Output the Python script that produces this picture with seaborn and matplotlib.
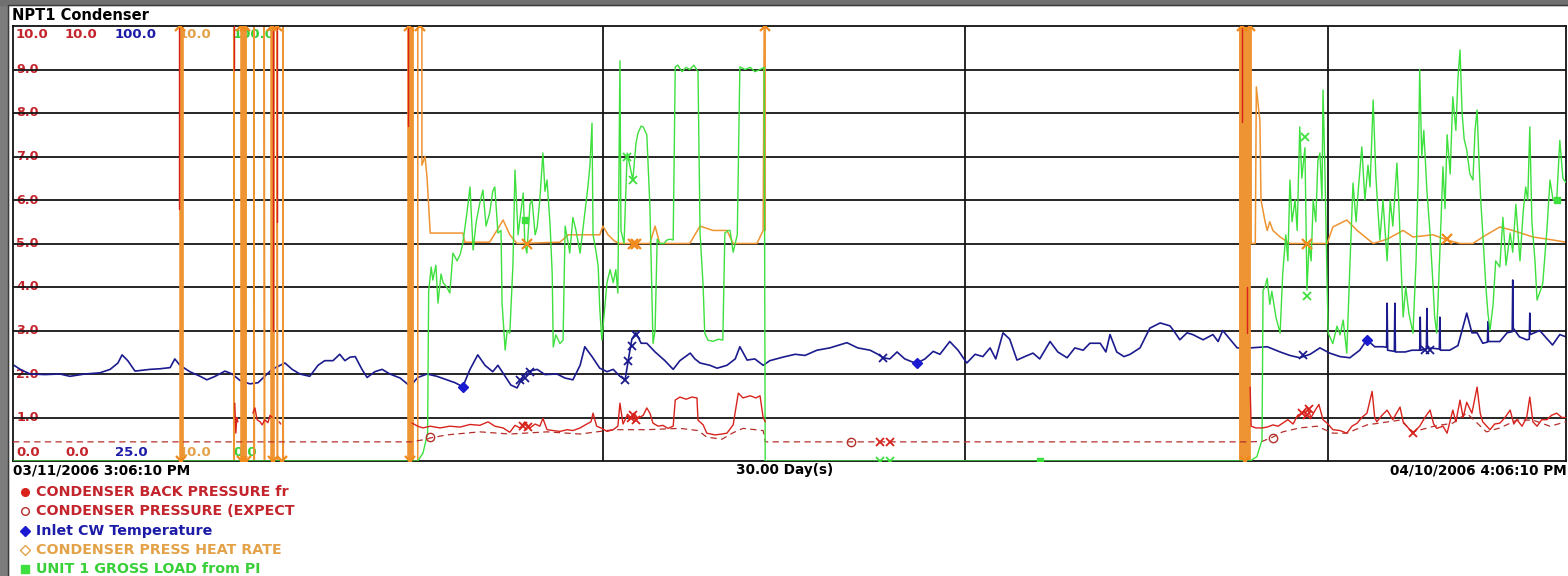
import numpy as np
import pandas as pd
import matplotlib
matplotlib.use("Agg")
import matplotlib.pyplot as plt
import seaborn as sns
from matplotlib.lines import Line2D
from matplotlib.patches import Rectangle

nan = np.nan

# ---------------- data (time in days since 03/11/2006 3:06:10 PM) ----------------
span_days = 30.04
week_lines = [11.41, 18.42, 25.43]

# Inlet CW temperature (deg F, scale 25..100)
cw_day = [0.02,0.14,0.33,0.62,0.91,1.10,1.39,1.68,1.88,2.03,2.11,2.22,2.36,2.65,2.84,3.04,3.13,3.23,3.42,3.62,
          3.75,3.91,4.10,4.24,4.39,4.58,4.74,4.87,5.01,5.26,5.40,5.55,5.74,5.90,6.03,6.19,6.32,6.42,6.52,6.62,
          6.75,6.85,7.00,7.14,7.29,7.49,7.68,7.83,8.01,8.20,8.39,8.55,8.70,8.84,8.99,9.13,9.28,9.38,9.52,9.63,
          9.75,9.85,9.94,10.14,10.29,10.52,10.68,10.83,10.97,11.06,11.20,11.35,11.49,11.61,11.74,11.84,11.90,11.97,12.05,12.15,
          12.26,12.42,12.61,12.77,12.90,13.10,13.19,13.29,13.48,13.62,13.81,13.97,14.06,14.20,14.35,14.51,14.64,14.89,15.13,15.32,
          15.55,15.80,16.13,16.34,16.58,16.73,16.83,16.96,17.10,17.25,17.39,17.49,17.64,17.80,17.93,18.12,18.28,18.45,18.61,18.76,
          18.90,19.01,19.15,19.28,19.42,19.57,19.73,19.86,20.06,20.21,20.39,20.54,20.70,20.83,21.03,21.14,21.22,21.35,21.49,21.61,
          21.80,21.99,22.19,22.38,22.48,22.57,22.71,22.82,23.02,23.21,23.31,23.40,23.54,23.68,23.93,24.26,24.51,24.70,24.89,25.09,
          25.28,25.47,25.67,25.86,26.05,26.19,26.34,26.50,26.57,26.58,26.59,26.72,26.73,26.74,26.93,27.06,27.21,27.22,27.23,27.34,
          27.35,27.36,27.50,27.59,27.60,27.61,27.79,27.95,28.12,28.22,28.32,28.43,28.52,28.53,28.54,28.76,28.90,29.00,29.01,29.02,
          29.14,29.28,29.33,29.34,29.35,29.53,29.78,29.92,30.04]
cw_temp = [41.5,40.8,40.0,39.9,40.0,39.6,40.0,40.2,40.8,41.9,43.3,42.3,40.5,40.8,40.9,41.1,42.6,41.5,40.4,39.6,
           39.0,39.6,40.5,40.0,38.9,38.3,38.5,39.6,40.8,41.9,40.8,40.0,39.6,41.5,42.3,42.3,43.4,42.3,42.9,43.0,
           40.8,39.4,40.4,40.8,40.0,39.3,37.9,39.4,40.0,39.6,39.0,38.5,37.8,40.8,43.3,41.5,40.4,41.5,39.6,38.1,
           37.6,39.3,40.4,40.8,39.9,40.0,39.3,39.0,41.5,44.7,43.0,41.0,40.4,40.8,39.6,39.0,42.3,46.0,47.1,45.3,
           45.3,43.8,42.3,40.8,42.3,43.6,42.6,41.9,41.5,41.0,41.5,42.6,44.7,42.4,42.6,41.5,42.3,42.9,43.4,43.2,
           44.1,44.5,45.4,44.5,44.1,43.4,42.8,42.6,43.8,42.6,42.1,41.9,42.6,43.9,43.4,45.6,44.1,41.9,43.4,43.0,
           44.5,42.6,47.1,46.0,42.4,43.0,43.6,42.6,45.6,43.8,42.8,44.5,44.1,45.3,45.3,43.8,46.8,43.8,43.0,43.4,
           44.5,47.9,48.8,48.3,47.1,45.9,47.1,46.8,45.9,46.8,45.6,47.5,46.0,44.5,44.5,44.7,43.8,43.2,42.8,43.4,
           44.5,43.6,43.0,42.8,44.1,45.9,44.7,44.7,44.6,52.2,44.1,43.9,52.2,43.8,43.8,44.1,44.1,49.8,44.1,44.3,
           51.3,44.5,44.4,44.3,49.8,44.1,44.1,44.9,50.5,47.1,47.1,45.3,45.5,49.0,45.6,45.6,47.1,47.3,56.2,47.9,
           46.4,45.9,46.0,50.5,46.8,47.5,45.0,46.8,46.4]

# Condenser back pressure (0..10), NaN = gap in the record
bp_day = [3.21,3.21,nan, 4.27,4.27,nan, 4.29,4.31,4.33,4.35,nan,
          4.64,4.68,4.72,4.78,4.82,4.87,4.93,4.97,5.01,nan, 5.03,5.03,nan, 5.11,5.11,nan, 5.15,5.18,nan, 7.64,7.64,nan,
          7.72,7.83,7.93,8.07,8.26,8.45,8.65,8.84,9.03,9.19,9.32,9.48,9.61,9.71,9.81,9.90,10.00,10.10,10.19,10.25,
          10.33,10.45,10.58,10.72,10.83,10.97,11.10,11.18,11.22,11.29,11.39,11.49,11.61,11.70,11.74,11.80,11.88,11.93,12.01,12.09,
          12.19,12.26,12.32,12.38,12.48,12.57,12.67,12.77,12.81,12.90,13.02,13.13,13.23,13.25,13.35,13.42,13.58,13.71,13.81,13.93,
          13.98,14.03,14.12,14.26,14.37,14.45,14.51,14.55,nan,
          23.77,23.77,nan, 23.87,23.87,nan,
          23.93,23.95,24.04,24.16,24.26,24.37,24.47,24.56,24.66,24.76,24.85,24.93,25.03,25.11,25.18,25.26,25.34,25.42,25.53,25.67,
          25.80,25.90,26.00,26.09,26.19,26.29,26.34,26.38,26.48,26.58,26.69,26.83,26.89,26.96,27.08,27.21,27.31,27.41,27.48,27.54,
          27.66,27.74,27.85,27.91,27.99,28.05,28.12,28.22,28.32,28.38,28.43,28.57,28.66,28.76,28.86,28.96,29.03,29.09,29.19,29.28,
          29.34,29.40,29.48,29.57,29.67,29.76,29.86,29.96,30.04]
bp_val = [10,5.8,nan, 10,9.0,nan, 1.33,0.64,1.0,0.9,nan,
          1.1,1.22,0.95,0.9,0.83,0.95,0.88,1.05,1.0,nan, 10,3.0,nan, 10,5.5,nan, 0.9,0.85,nan, 10,7.7,nan,
          0.87,0.8,0.76,0.8,0.76,0.8,0.78,0.84,0.82,0.9,0.8,0.76,0.66,0.82,0.76,0.9,0.76,0.85,0.8,0.98,
          0.72,0.7,0.68,0.72,0.7,0.76,0.85,0.9,1.1,0.8,0.75,0.68,0.72,0.8,1.33,0.85,1.05,0.95,1.1,0.98,
          1.05,1.22,1.1,0.87,0.8,0.82,0.75,0.8,1.4,1.47,1.42,1.47,1.45,0.94,0.83,0.64,0.6,0.62,0.64,0.83,
          1.2,1.56,1.45,1.5,1.45,1.5,1.0,0.9,nan,
          10,7.8,nan, 4.0,2.94,nan,
          1.7,0.8,0.76,0.76,0.78,0.83,0.8,0.87,0.95,0.85,1.05,1.1,1.24,1.0,1.15,1.3,0.95,0.87,0.72,0.7,
          0.64,0.8,0.87,1.0,1.1,1.6,1.0,0.9,1.05,1.17,0.95,1.24,0.9,0.8,0.64,0.8,1.0,1.17,0.85,0.75,
          0.8,0.64,1.17,0.9,1.4,1.0,1.35,1.1,1.7,1.1,0.9,0.72,0.85,0.87,1.0,1.17,0.85,0.95,0.8,1.0,
          1.47,0.9,0.8,0.95,0.95,1.05,1.1,1.0,1.0]

# Condenser pressure (expected), 0..10
exp_day = [0.00,7.70,8.00,8.07,8.39,9.03,9.61,10.33,10.97,11.61,12.26,12.90,13.25,13.42,13.71,13.93,14.12,14.51,14.55,23.90,
           24.16,24.37,24.56,24.89,25.22,25.53,25.80,26.19,26.83,27.08,27.49,27.85,28.12,28.50,28.76,29.09,29.40,29.73,30.04]
exp_val = [0.44,0.44,0.5,0.53,0.6,0.67,0.62,0.67,0.62,0.72,0.72,0.75,0.7,0.55,0.5,0.65,0.75,0.7,0.44,0.44,
           0.45,0.55,0.67,0.76,0.8,0.64,0.64,0.83,0.94,0.67,0.8,0.87,1.1,0.67,0.76,0.94,0.94,0.8,0.9]

# Condenser press heat rate (chart units 0..10), NaN = gap
hr_day = [0.00, 3.23,3.23,3.25,3.25,3.27,3.27,3.29,3.29, 4.27,4.27,4.28,
          4.41,4.41,4.43,4.43,4.45,4.45,4.47,4.47,4.49,4.49,4.51,4.51, 4.66,4.66,4.67, 4.86,4.86,4.87,
          4.99,4.99,5.01,5.01,5.03,5.03,5.05,5.05, 5.11,5.11,5.12, 5.22,5.22,5.23,
          7.64,7.64,7.66,7.66,7.68,7.68,7.70,7.70,7.72,7.72,7.74,7.74,
          7.83,7.83,7.91,7.91,7.97,8.01,8.07,8.70,8.74,9.22,9.36,9.48,9.61,9.75,10.58,10.74,11.35,11.41,11.51,11.64,
          11.74,12.32,12.42,12.51,13.09,13.29,13.54,13.81,13.93,14.39,14.51,14.53,14.55,14.55, nan,
          23.70, 23.73,23.73,23.75,23.75,23.77,23.77,23.79,23.79,23.81,23.81,23.83,23.83,23.85,23.85,23.87,23.87,
          23.89,23.89,23.91,23.91,23.93,23.93,
          23.95,23.95,24.03,24.05,24.12,24.14,24.22,24.26,24.31,24.37,24.51,24.70,25.03,25.42,25.53,25.80,26.00,26.31,
          26.58,26.89,27.08,27.47,27.74,27.99,28.24,28.43,28.76,29.01,29.40,29.79,30.04]
hr_val = [0, 0,10,10,0,0,10,10,0, 0,10,0,
          0,10,10,0,0,10,10,0,0,10,10,0, 0,10,0, 0,10,0,
          0,10,10,0,0,10,10,0, 0,10,0, 0,10,0,
          0,10,10,0,0,10,10,0,0,10,10,0,
          0,10,10,6.8,7.0,6.5,5.24,5.24,5.03,5.03,5.3,5.54,5.2,5.0,5.03,5.2,5.2,5.4,5.2,5.05,
          5.0,5.0,5.4,5.0,5.0,5.4,5.3,5.3,5.0,5.0,5.3,10,10,5.3, nan,
          0, 0,10,10,0,0,10,10,0,0,10,10,0,0,10,10,0,
          0,10,10,0,0,10,
          10,5.0,5.0,8.6,7.8,6.0,5.5,5.3,5.5,5.3,5.15,5.0,5.0,5.0,5.38,5.54,5.3,5.0,
          5.1,5.3,5.15,5.2,5.08,5.0,5.0,5.15,5.38,5.3,5.15,5.08,5.03]

# Unit 1 gross load (MW, scale 0..100)
load_day = [0.00,7.68,7.83,7.93,8.02,8.04,8.09,8.12,8.18,8.22,8.28,8.32,8.39,8.45,8.51,8.59,8.65,8.70,8.78,8.84,
            8.90,8.96,9.03,9.09,9.15,9.22,9.28,9.32,9.38,9.44,9.46,9.52,9.56,9.61,9.67,9.71,9.77,9.81,9.87,9.90,
            9.94,10.00,10.04,10.10,10.14,10.19,10.25,10.29,10.33,10.39,10.43,10.45,10.50,10.58,10.64,10.68,10.74,10.77,10.83,10.89,
            10.97,11.03,11.08,11.12,11.16,11.20,11.22,11.28,11.32,11.35,11.39,11.43,11.49,11.55,11.61,11.66,11.70,11.74,11.76,11.82,
            11.88,11.93,11.99,12.05,12.09,12.15,12.19,12.22,12.26,12.32,12.38,12.42,12.46,12.51,12.59,12.65,12.71,12.77,12.81,12.86,
            12.94,13.02,13.09,13.17,13.25,13.29,13.35,13.38,13.44,13.54,13.64,13.73,13.77,13.83,13.87,13.93,14.01,14.06,14.16,14.26,
            14.35,14.45,14.53,14.55,
            23.93,24.06,24.16,24.18,24.22,24.26,24.31,24.35,24.43,24.51,24.56,24.62,24.66,24.70,24.74,24.80,24.84,24.89,24.93,24.99,
            25.03,25.07,25.11,25.15,25.20,25.24,25.28,25.32,25.34,25.38,25.42,25.44,25.53,25.61,25.67,25.73,25.80,25.86,25.92,25.98,
            26.02,26.09,26.15,26.21,26.25,26.31,26.36,26.40,26.44,26.50,26.58,26.64,26.69,26.77,26.81,26.85,26.89,26.94,27.00,27.08,
            27.14,27.18,27.21,27.25,27.29,27.35,27.41,27.47,27.50,27.54,27.60,27.66,27.70,27.74,27.80,27.85,27.91,27.95,27.99,28.03,
            28.07,28.12,28.18,28.24,28.28,28.32,28.36,28.39,28.43,28.49,28.53,28.57,28.63,28.68,28.76,28.82,28.88,28.96,29.01,29.07,
            29.15,29.21,29.26,29.30,29.34,29.38,29.44,29.48,29.54,29.59,29.67,29.73,29.79,29.86,29.92,29.98,30.04]
load_mw = [0,0,0,1.8,6.4,39,44.6,41.6,45,36.3,43,41,40,38.6,47.8,46,47.5,50,57,63,
           48.5,55,59.3,62.3,54,57,62,63,52.4,53,36.3,25.5,30,29.4,45,66.9,52,56,61.6,50,
           47.8,59,60,52,53.8,60,70.8,62,64.6,54,43,26.2,29,27,27.8,54,50,47.8,56,53,
           47.8,53.8,59,63,68,77.7,52,48,44.6,35,27.8,33,41,44,41,44,38.6,92,53,50,
           70.8,68,64.6,73,75.4,77,76.8,76,75,58.5,27,30,51,50,50,50.8,51,50.8,90.6,91,
           89.5,90.5,90,91,89.5,52.4,40,29.4,27.8,27.5,28,27.8,52.4,53,53,48,52,90.6,90,90.5,
           89.5,90,90.5,0,
           0,1,4.8,39.3,40,42,36,39,33,29.4,43,52,46,64.6,55,60,53,76.8,65,72,
           39.3,50,46,60,55,69,70.8,60,85.3,65,40,29.4,27,31,29,32.4,24.8,45,63.9,55,
           62,72.2,60,68,63,83,66,58,50.8,60,46,60,54,68.5,58,45,33.1,40,34,29.4,
           46,65,90,70,76,62,52.4,40,33,29.4,48,67.6,58,75,66,83.7,76,88,94.5,80,
           74,71.5,66,64.6,76,80.7,68,60,52.4,40,34,30,36,46,44.6,56,45,52.4,48,59,
           46,57,63,60,76.8,55,46,37,39,40.8,53,64.6,60,60,73.7,65,64]

# point markers drawn on the traces
hr_mark_day = [3.23,4.41,4.49,5.01,5.11,7.66,7.87,14.55,23.77,23.93,3.25,4.43,4.51,5.03,5.20,7.68,23.83,9.94,11.99,12.05,25.03,27.74]
hr_mark_val = [10,10,10,10,10,10,10,10,10,10,0,0,0,0,0,0,0,5.0,5.0,5.0,5.0,5.1]
load_x_day = [11.88,11.99,25.00,25.03,16.77,16.96]
load_x_mw = [70,64.6,74.5,38,0,0]
load_sq_day = [9.90,19.86,29.86]
load_sq_mw = [55.5,0,60]
cw_x_day = [9.81,9.90,10.00,11.84,11.90,11.97,12.05,16.83,24.95,27.31,27.41]
cw_x_temp = [38.9,39.3,40.4,39.0,42.3,44.9,46.8,42.8,43.3,44.1,44.1]
cw_dia_day = [8.70,17.49,26.19]
cw_dia_temp = [37.8,41.9,45.9]
bp_x_day = [9.87,9.97,11.95,12.00,12.05,24.93,25.03,25.07,27.08]
bp_x_val = [0.8,0.78,1.0,1.05,0.95,1.1,1.05,1.2,0.64]
exp_x_day = [16.77,16.96]
exp_x_val = [0.44,0.44]
exp_o_day = [8.07,16.20,24.37]
exp_o_val = [0.55,0.44,0.52]

tick_vals = [1, 2, 3, 4, 5, 6, 7, 8, 9]
tick_text = ["1.0", "2.0", "3.0", "4.0", "5.0", "6.0", "7.0", "8.0", "9.0"]
scale_top = ["10.0", "10.0", "100.0", "10.0", "100.0"]
scale_bottom = ["0.0", "0.0", "25.0", "10.0", "0.0"]
legend_names = ["CONDENSER BACK PRESSURE fr", "CONDENSER PRESSURE (EXPECT", "Inlet CW Temperature",
                "CONDENSER PRESS HEAT RATE", "UNIT 1 GROSS LOAD from PI"]
title = "NPT1 Condenser"
start_label = "03/11/2006 3:06:10 PM"
span_label = "30.00 Day(s)"
end_label = "04/10/2006 4:06:10 PM"

# ---------------- style ----------------
RED = "#d8231d"
RED_T = "#c4242c"
EXP = "#b4302c"
BLUE = "#1b1b8e"
BLUE_T = "#1c1ca8"
GREEN = "#3ee03e"
GREEN_T = "#38d038"
ORANGE = "#ef9432"
ORANGE_T = "#e4a248"

sns.set_theme(style="white")
plt.rcParams["font.family"] = ["DejaVu Sans"]
plt.rcParams["font.weight"] = "bold"

W, H = 1568, 576
fig = plt.figure(figsize=(W / 100, H / 100), dpi=100)
fig.patch.set_facecolor("white")
fx = lambda px: px / W
fy = lambda py: 1 - py / H

ax = fig.add_axes([fx(13), fy(461), fx(1566) - fx(13), fy(26) - fy(461)])
ax.set_xlim(0, span_days)
ax.set_ylim(0, 10)
ax.set_facecolor("white")
ax.set_xticks(week_lines)
ax.set_yticks(tick_vals)
ax.grid(True, color="#151515", lw=1.3)
ax.set_axisbelow(True)
ax.tick_params(length=0, labelbottom=False, labelleft=False)
ax.set_xlabel("")
ax.set_ylabel("")
for s in ax.spines.values():
    s.set_color("#111111")
    s.set_linewidth(1.3)


def seg_frame(day, val):
    d = np.asarray(day, float)
    v = np.asarray(val, float)
    seg = np.cumsum(np.isnan(v))
    df = pd.DataFrame({"day": d, "val": v, "seg": seg})
    return df.dropna()


cw_df = pd.DataFrame({"day": cw_day, "val": (np.asarray(cw_temp) - 25.0) / 75.0 * 10.0, "seg": 0})
bp_df = seg_frame(bp_day, bp_val)
exp_df = pd.DataFrame({"day": exp_day, "val": exp_val, "seg": 0})
hr_df = seg_frame(hr_day, hr_val)
load_df = pd.DataFrame({"day": load_day, "val": np.asarray(load_mw) / 10.0, "seg": 0})

common = dict(x="day", y="val", units="seg", estimator=None, sort=False, legend=False, ax=ax)
sns.lineplot(data=cw_df, color=BLUE, lw=1.2, zorder=2, **common)
sns.lineplot(data=hr_df, color=ORANGE, lw=1.1, zorder=2.5, **common)
sns.lineplot(data=exp_df, color=EXP, lw=0.9, linestyle=(0, (5, 3.5)), zorder=3, **common)
sns.lineplot(data=load_df, color=GREEN, lw=1.0, zorder=3.5, **common)
sns.lineplot(data=bp_df, color=RED, lw=1.0, zorder=4, **common)

# markers
mk = dict(ls="none", zorder=4.5)
ax.plot(hr_mark_day, hr_mark_val, marker="x", ms=7, mew=1.6, color="#f08a1c", **mk)
ax.plot(load_x_day, np.asarray(load_x_mw) / 10, marker="x", ms=6, mew=1.3, color=GREEN, **mk)
ax.plot(load_sq_day, np.asarray(load_sq_mw) / 10, marker="s", ms=5, color=GREEN, **mk)
ax.plot(cw_x_day, (np.asarray(cw_x_temp) - 25) / 7.5, marker="x", ms=6, mew=1.3, color=BLUE, **mk)
ax.plot(cw_dia_day, (np.asarray(cw_dia_temp) - 25) / 7.5, marker="D", ms=5, color="#1a1ad0", **mk)
ax.plot(bp_x_day, bp_x_val, marker="x", ms=6, mew=1.3, color=RED, **mk)
ax.plot(exp_x_day, exp_x_val, marker="x", ms=6, mew=1.3, color=RED, **mk)
ax.plot(exp_o_day, exp_o_val, marker="o", ms=6, mew=1.0, mfc="none", color=EXP, **mk)

# in-plot scale labels (drawn beneath grid and traces)
ytr = ax.get_yaxis_transform()
for v, t in zip(tick_vals, tick_text):
    ax.text(0.002, v, t, transform=ytr, ha="left", va="center", fontsize=9.2, color=RED_T,
            fontweight="bold", zorder=0.3)
scale_cols = [RED_T, RED_T, BLUE_T, ORANGE_T, GREEN_T]
scale_x = [16, 65, 115, 179, 233]
for t, b, c, xp in zip(scale_top, scale_bottom, scale_cols, scale_x):
    ax.text(fx(xp), fy(35), t, transform=fig.transFigure, ha="left", va="center", fontsize=9.5,
            color=c, fontweight="bold", zorder=0.3)
    ax.text(fx(xp), fy(452), b, transform=fig.transFigure, ha="left", va="center", fontsize=9.5,
            color=c, fontweight="bold", zorder=0.3)

# titles / time labels
fig.text(fx(12), fy(15), title, ha="left", va="center", fontsize=10.5, fontweight="bold", color="black")
fig.text(fx(13), fy(470), start_label, ha="left", va="center", fontsize=9.8, fontweight="bold", color="black")
fig.text(fx(785), fy(470), span_label, ha="center", va="center", fontsize=9.8, fontweight="bold", color="black")
fig.text(fx(1567), fy(470), end_label, ha="right", va="center", fontsize=9.8, fontweight="bold", color="black")

# legend
leg_y = [492, 511, 531, 550, 569]
leg_marker = ["o", "o", "D", "D", "s"]
leg_face = [RED, "none", "#1a1ad0", "none", GREEN]
leg_edge = [RED, EXP, "#1a1ad0", ORANGE_T, GREEN]
leg_text = [RED_T, RED_T, BLUE_T, ORANGE_T, GREEN_T]
for name, yy, m, fc, ec, tc in zip(legend_names, leg_y, leg_marker, leg_face, leg_edge, leg_text):
    fig.add_artist(Line2D([fx(25)], [fy(yy)], transform=fig.transFigure, marker=m, ms=5.5,
                          mfc=fc, mec=ec, mew=1.0, ls="none"))
    fig.text(fx(36), fy(yy), name, ha="left", va="center", fontsize=10.3, fontweight="bold", color=tc)

# window border
fig.add_artist(Rectangle((0, 0), fx(8), 1, transform=fig.transFigure, color="#7c7c7c", zorder=10))
fig.add_artist(Rectangle((0, fy(5)), 1, 1 - fy(5), transform=fig.transFigure, color="#707070", zorder=10))
fig.add_artist(Line2D([fx(8), fx(8)], [0, fy(5)], transform=fig.transFigure, color="#3a3a3a", lw=1, zorder=10))
fig.add_artist(Line2D([fx(8), 1], [fy(5), fy(5)], transform=fig.transFigure, color="#3a3a3a", lw=1, zorder=10))

fig.savefig("out.png", dpi=100, facecolor="white")
